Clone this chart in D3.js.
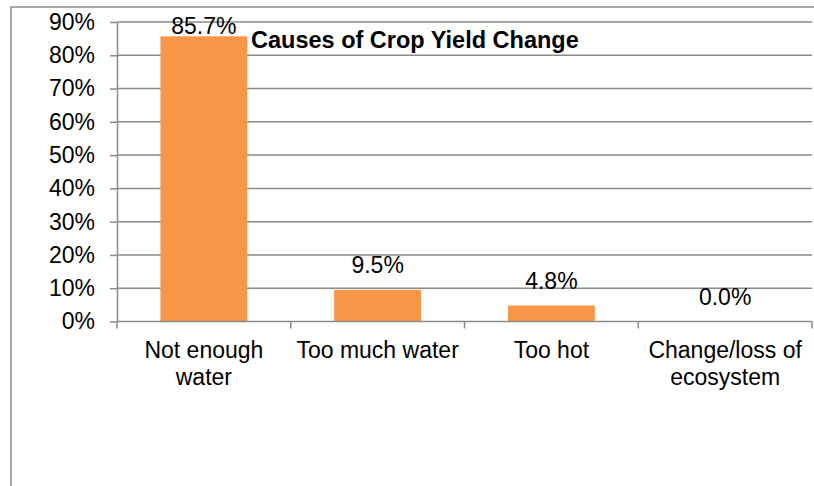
<!DOCTYPE html>
<html>
<head>
<meta charset="utf-8">
<script src="https://cdn.jsdelivr.net/npm/d3@7/dist/d3.min.js"></script>
<style>
  html, body { margin: 0; padding: 0; background: #fff; }
  svg { display: block; }
  text { font-family: "Liberation Sans", Arial, sans-serif; fill: #000; }
</style>
</head>
<body>
<svg id="chart" width="814" height="486"></svg>
<script>
// ---- data ----
const categories = ["Not enough water", "Too much water", "Too hot", "Change/loss of ecosystem"];
const categoryLines = [["Not enough", "water"], ["Too much water"], ["Too hot"], ["Change/loss of", "ecosystem"]];
const values = [0.857, 0.095, 0.048, 0.0];
const valueLabels = ["85.7%", "9.5%", "4.8%", "0.0%"];
const yTicks = [0, 0.1, 0.2, 0.3, 0.4, 0.5, 0.6, 0.7, 0.8, 0.9];
const title = "Causes of Crop Yield Change";

// ---- layout ----
const svg = d3.select("#chart");
const W = 814, H = 486;
const plot = { left: 117, right: 812, top: 22, bottom: 321.5 };
const FS = 23;
const gridColor = "#8a8a8a";
const barColor = "#F79646";

// outer chart border
svg.append("rect")
  .attr("x", 11).attr("y", 7)
  .attr("width", W + 10).attr("height", H + 10)
  .attr("fill", "none").attr("stroke", "#8c8c8c").attr("stroke-width", 1.5);

const x = d3.scaleBand().domain(categories)
  .range([plot.left, plot.right]).paddingInner(0.5).paddingOuter(0.25);
const y = d3.scaleLinear().domain([0, 0.9]).range([plot.bottom, plot.top]);

// gridlines
svg.append("g").selectAll("line").data(yTicks.filter(t => t > 0)).join("line")
  .attr("x1", plot.left).attr("x2", plot.right)
  .attr("y1", d => y(d)).attr("y2", d => y(d))
  .attr("stroke", gridColor).attr("stroke-width", 1.5);

// y axis
const yAxis = d3.axisLeft(y).tickValues(yTicks)
  .tickFormat(d3.format(".0%")).tickSize(7).tickSizeOuter(0).tickPadding(15);
const gy = svg.append("g").attr("transform", `translate(${plot.left},0)`).call(yAxis);
gy.select(".domain").attr("stroke", gridColor).attr("stroke-width", 1.5);
gy.selectAll(".tick line").attr("stroke", gridColor).attr("stroke-width", 1.5);
gy.selectAll(".tick text").style("font-size", FS + "px").style("font-family", '"Liberation Sans", Arial, sans-serif').attr("fill", "#000");

// bars
svg.append("g").selectAll("rect").data(values).join("rect")
  .attr("x", (d, i) => x(categories[i]))
  .attr("width", x.bandwidth())
  .attr("y", d => y(d))
  .attr("height", d => y(0) - y(d))
  .attr("fill", barColor);

// x axis line and boundary ticks
const step = x.step();
const bounds = categories.map(c => x(c) - step * 0.25).concat([plot.right]);
svg.append("line")
  .attr("x1", plot.left).attr("x2", plot.right)
  .attr("y1", y(0)).attr("y2", y(0))
  .attr("stroke", gridColor).attr("stroke-width", 1.5);
svg.append("g").selectAll("line").data(bounds).join("line")
  .attr("x1", d => d).attr("x2", d => d)
  .attr("y1", y(0)).attr("y2", y(0) + 7)
  .attr("stroke", gridColor).attr("stroke-width", 1.5);

// category labels
const catG = svg.append("g").selectAll("text").data(categories).join("text")
  .attr("text-anchor", "middle")
  .attr("x", c => x(c) + x.bandwidth() / 2)
  .attr("y", 358)
  .style("font-size", FS + "px");
catG.each(function (c, i) {
  const t = d3.select(this);
  categoryLines[i].forEach((line, k) => {
    t.append("tspan").attr("x", x(c) + x.bandwidth() / 2).attr("dy", k === 0 ? 0 : 27).text(line);
  });
});

// value labels (clamped inside plot area top)
svg.append("g").selectAll("text").data(values).join("text")
  .attr("text-anchor", "middle")
  .attr("x", (d, i) => x(categories[i]) + x.bandwidth() / 2)
  .attr("y", d => Math.max(y(d) - 17, y(0.9) + 12))
  .style("font-size", FS + "px")
  .text((d, i) => valueLabels[i]);

// title
svg.append("text")
  .attr("x", 251).attr("y", 48)
  .style("font-size", "23.5px").style("font-weight", "bold")
  .text(title);
</script>
</body>
</html>
